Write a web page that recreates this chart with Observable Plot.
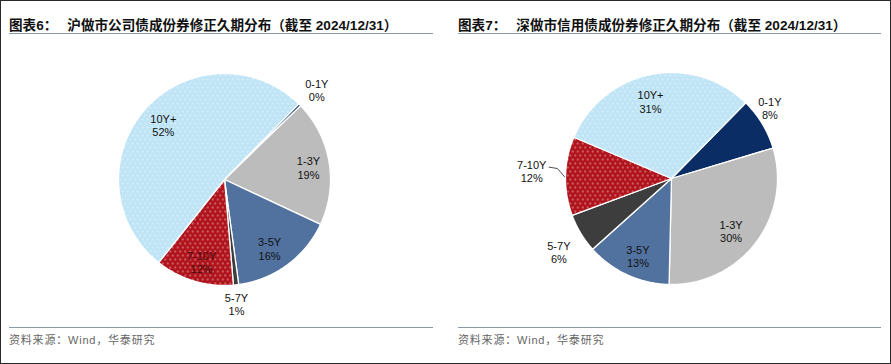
<!DOCTYPE html>
<html>
<head>
<meta charset="utf-8">
<script src="https://cdn.jsdelivr.net/npm/d3@7"></script>
<script src="https://cdn.jsdelivr.net/npm/@observablehq/plot@0.6"></script>
<style>
  body { margin: 0; background: #fff; }
  #frame { position: relative; width: 891px; height: 364px; box-sizing: border-box; border: 1.5px solid #2a2a2a; overflow: hidden; background: #fff; }
  .panel { position: absolute; top: 0; height: 364px; }
  .title { position: absolute; top: 13px; left: 8px; white-space: nowrap; font-family: "Liberation Sans", "Noto Sans CJK SC", sans-serif; font-weight: 700; font-size: 13.6px; color: #111; }
  .title .gap { display: inline-block; width: 10px; }
  .rule { position: absolute; left: 8px; height: 1px; background: #8d98a2; }
  .plot { position: absolute; top: 36px; left: 0; }
  .source { position: absolute; top: 330px; left: 8px; white-space: nowrap; font-family: "Liberation Sans", "Noto Sans CJK SC", sans-serif; font-size: 11px; letter-spacing: 0.8px; color: #666; }
</style>
</head>
<body>
<div id="frame"></div>
<script>
// ---- data ----
const categories = ["0-1Y", "1-3Y", "3-5Y", "5-7Y", "7-10Y", "10Y+"];
const shValues = [0.4, 19.2, 15.9, 0.8, 12.0, 51.7];   // 沪做市公司债
const szValues = [8, 30, 13, 6, 12, 31];                // 深做市信用债
const titles = [
  ["图表6：", "沪做市公司债成份券修正久期分布（截至 2024/12/31）"],
  ["图表7：", "深做市信用债成份券修正久期分布（截至 2024/12/31）"]
];
const sourceText = "资料来源：Wind，华泰研究";

// ---- layout / style ----
const baseColors = ["#0b2d66", "#bcbcbc", "#51719f", "#3d3d3d", "#b0131c", "#bfe4f6"];
const panels = [
  {values: shValues, left: 0, width: 445, cx: 223, cy: 142, r: 106, ruleW: 424,
   labels: [[46, 1.21], [82, 0.80], [147, 0.78], [174.5, 1.18], [195.5, 0.81], [311.5, 0.77]],
   labelColors: ["#111", "#111", "#111", "#111", "#4a0a0a", "#111"],
   leader: null},
  {values: szValues, left: 445, width: 446, cx: 225, cy: 141, r: 106, ruleW: 423,
   labels: [[54.5, 1.14], [131.5, 0.75], [203.3, 0.80], [236.8, 1.27], [272.9, 1.32], [344.7, 0.75]],
   labelColors: ["#111", "#111", "#111", "#111", "#111", "#111"],
   leader: [[275.3, 1.16], [275, 1.08], [271, 1.01]]}
];
const startDeg = 44.5;
const H = 286;

const frame = document.getElementById("frame");
const rad = d => d * Math.PI / 180;
const polar = (a, rho) => ({x: rho * Math.sin(a), y: rho * Math.cos(a)});

panels.forEach((p, i) => {
  const panel = document.createElement("div");
  panel.className = "panel";
  panel.style.left = p.left + "px";
  panel.style.width = p.width + "px";
  frame.appendChild(panel);

  const t = document.createElement("div");
  t.className = "title";
  t.innerHTML = `${titles[i][0]}<span class="gap"></span>${titles[i][1]}`;
  if (i === 1) t.style.left = "12px";
  panel.appendChild(t);

  const r1 = document.createElement("div");
  r1.className = "rule"; r1.style.top = "32px"; r1.style.width = p.ruleW + "px";
  if (i === 1) r1.style.left = "12px";
  panel.appendChild(r1);

  const data = categories.map((k, j) => ({key: k, value: p.values[j]}));
  const arcs = d3.pie().sort(null).value(d => d.value)
    .startAngle(rad(startDeg)).endAngle(rad(startDeg) + 2 * Math.PI)(data);

  const rows = [];
  arcs.forEach(a => {
    const span = a.endAngle - a.startAngle;
    const n = Math.max(2, Math.ceil(span / 0.01));
    rows.push({key: a.data.key, ...polar(0, 0)});
    for (let s = 0; s <= n; s++) {
      rows.push({key: a.data.key, ...polar(a.startAngle + span * s / n, 1)});
    }
    rows.push({key: a.data.key, ...polar(0, 0)});
  });

  const labelRows = categories.map((k, j) => ({
    key: k,
    text: `${k}\n${Math.round(p.values[j])}%`,
    color: p.labelColors[j],
    ...polar(rad(p.labels[j][0]), p.labels[j][1])
  }));

  const leaderRows = p.leader ? p.leader.map(([a, rho]) => polar(rad(a), rho)) : [];

  const fills = baseColors.slice();
  fills[4] = `url(#dotsRed${i})`;
  fills[5] = `url(#dotsBlue${i})`;

  const W = p.width;
  const marks = [
    Plot.line(rows, {x: "x", y: "y", z: "key", fill: "key", stroke: "#fff", strokeWidth: 1.3, strokeLinejoin: "round", curve: "linear"}),
    Plot.text(labelRows, {x: "x", y: "y", text: "text", fill: "color", fontSize: 11, lineHeight: 1.2, fontFamily: "Liberation Sans, Arial, sans-serif"})
  ];
  if (leaderRows.length) marks.push(Plot.line(leaderRows, {x: "x", y: "y", stroke: "#222", strokeWidth: 0.8}));

  const svg = Plot.plot({
    width: W, height: H, margin: 0,
    x: {domain: [-p.cx / p.r, (W - p.cx) / p.r], range: [0, W], axis: null},
    y: {domain: [-(H - p.cy) / p.r, p.cy / p.r], range: [H, 0], axis: null},
    color: {type: "ordinal", domain: categories, range: fills},
    style: {background: "transparent", overflow: "visible"},
    marks
  });

  const ns = "http://www.w3.org/2000/svg";
  const defs = document.createElementNS(ns, "defs");
  [["dotsRed" + i, baseColors[4], 0.95], ["dotsBlue" + i, baseColors[5], 0.9]].forEach(([id, col, op]) => {
    const pat = document.createElementNS(ns, "pattern");
    pat.setAttribute("id", id);
    pat.setAttribute("patternUnits", "userSpaceOnUse");
    pat.setAttribute("width", "5");
    pat.setAttribute("height", "8");
    const rect = document.createElementNS(ns, "rect");
    rect.setAttribute("width", "5"); rect.setAttribute("height", "8"); rect.setAttribute("fill", col);
    pat.appendChild(rect);
    [[1.25, 2], [3.75, 6]].forEach(([cx, cy]) => {
      const c = document.createElementNS(ns, "circle");
      c.setAttribute("cx", cx); c.setAttribute("cy", cy); c.setAttribute("r", "0.65");
      c.setAttribute("fill", "#fff"); c.setAttribute("fill-opacity", op);
      pat.appendChild(c);
    });
    defs.appendChild(pat);
  });
  svg.insertBefore(defs, svg.firstChild);

  const holder = document.createElement("div");
  holder.className = "plot";
  holder.appendChild(svg);
  panel.appendChild(holder);

  const r2 = document.createElement("div");
  r2.className = "rule"; r2.style.top = "326px"; r2.style.width = p.ruleW + "px";
  if (i === 1) r2.style.left = "12px";
  panel.appendChild(r2);

  const s = document.createElement("div");
  s.className = "source";
  s.textContent = sourceText;
  if (i === 1) s.style.left = "12px";
  panel.appendChild(s);
});
</script>
</body>
</html>
